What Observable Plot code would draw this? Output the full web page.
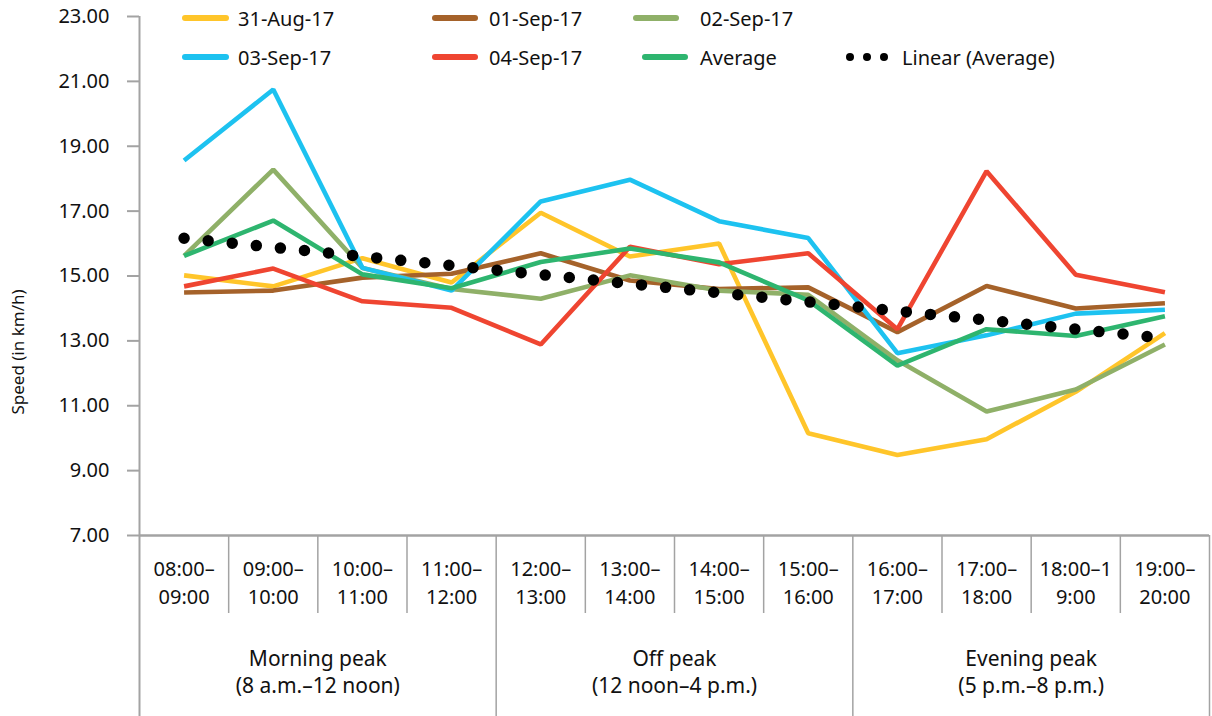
<!DOCTYPE html>
<html><head><meta charset="utf-8">
<script src="https://cdn.jsdelivr.net/npm/d3@7"></script>
<script src="https://cdn.jsdelivr.net/npm/@observablehq/plot@0.6"></script>
<style>
body{margin:0;background:#fff;font-family:"Noto Sans",sans-serif;}
#wrap{position:relative;width:1212px;height:716px;overflow:hidden;}
#wrap svg{position:absolute;left:0;top:0;}
.lg{position:absolute;height:24px;display:flex;align-items:center;font-size:20px;color:#111;white-space:nowrap;}
.sw{position:absolute;height:6px;border-radius:3px;}
.dot{position:absolute;width:8px;height:8px;border-radius:4px;background:#000;}
</style></head><body><div id="wrap"></div>
<script>
// ---- data ----
const slots = ["08:00–\n09:00","09:00–\n10:00","10:00–\n11:00","11:00–\n12:00","12:00–\n13:00","13:00–\n14:00","14:00–\n15:00","15:00–\n16:00","16:00–\n17:00","17:00–\n18:00","18:00–1\n9:00","19:00–\n20:00"];
const groups = ["Morning peak\n(8 a.m.–12 noon)","Off peak\n(12 noon–4 p.m.)","Evening peak\n(5 p.m.–8 p.m.)"];
const groupCenters = [2.5, 6.5, 10.5];
const slotEdges = [1.5,2.5,3.5,5.5,6.5,7.5,9.5,10.5,11.5];
const groupEdges = [0.5,4.5,8.5,12.5];
const yTicks = [7,9,11,13,15,17,19,21,23];
const seriesNames = ["31-Aug-17","01-Sep-17","02-Sep-17","03-Sep-17","04-Sep-17","Average"];
const seriesColors = ["#FFC52A","#A5622A","#8FB068","#1DC2F0","#EF4531","#2EB56F"];
const aug31 = [15.02,14.68,15.55,14.8,16.95,15.6,16.0,10.15,9.48,9.97,11.43,13.24];
const sep01 = [14.49,14.55,14.95,15.07,15.7,14.86,14.6,14.65,13.27,14.69,14.0,14.16];
const sep02 = [15.62,18.28,15.25,14.6,14.3,15.02,14.55,14.42,12.4,10.82,11.5,12.89];
const sep03 = [18.56,20.75,15.25,14.55,17.3,17.97,16.69,16.17,12.62,13.17,13.84,13.96];
const sep04 = [14.68,15.23,14.22,14.02,12.89,15.9,15.36,15.7,13.36,18.23,15.04,14.5];
const average = [15.62,16.71,15.05,14.62,15.43,15.85,15.42,14.25,12.24,13.36,13.15,13.76];
const trendLabel = "Linear (Average)";

const allSeries = [aug31, sep01, sep02, sep03, sep04, average];
const rows = allSeries.flatMap((vals, s) => vals.map((v, i) => ({slot: i + 1, series: seriesNames[s], value: v})));
const avgRows = average.map((v, i) => ({slot: i + 1, value: v}));

const FONT = "Noto Sans";
const AXIS = "#A3A3A3";
const INK = "#111";

const chart = Plot.plot({
  width: 1212, height: 716,
  marginLeft: 139, marginRight: 3, marginTop: 16, marginBottom: 181,
  style: {fontFamily: FONT, fontSize: "20px", color: INK, background: "transparent"},
  x: {type: "linear", domain: [0.5, 12.5], axis: null},
  y: {domain: [7, 23], axis: null},
  color: {domain: seriesNames, range: seriesColors},
  marks: [
    // y axis
    Plot.axisY({ticks: yTicks, tickFormat: d3.format(".2f"), tickSize: 12, tickPadding: 18, stroke: AXIS, strokeWidth: 2, fill: INK, fontSize: 20, label: null}),
    Plot.ruleX([0.5], {stroke: AXIS, strokeWidth: 2, insetBottom: -181}),
    Plot.ruleY([7], {stroke: AXIS, strokeWidth: 2.5}),
    // category table
    Plot.ruleX(slotEdges, {stroke: AXIS, strokeWidth: 1.5, insetTop: 519, insetBottom: -78}),
    Plot.ruleX(groupEdges.slice(1), {stroke: AXIS, strokeWidth: 1.5, insetTop: 519, insetBottom: -181}),
    Plot.text(slots, {x: (d, i) => i + 1, text: d => d, frameAnchor: "bottom", lineAnchor: "middle", dy: 46, lineHeight: 1.4, fontSize: 20, fill: INK}),
    Plot.text(groups, {x: (d, i) => groupCenters[i], text: d => d, frameAnchor: "bottom", lineAnchor: "middle", dy: 135, lineHeight: 1.3, fontSize: 21, fill: INK}),
    Plot.text(["Speed (in km/h)"], {frameAnchor: "left", textAnchor: "middle", lineAnchor: "middle", dx: -121, dy: 76, rotate: -90, fontSize: 17, fill: INK}),
    // series
    Plot.line(rows, {x: "slot", y: "value", stroke: "series", z: "series", strokeWidth: 4.6, strokeLinejoin: "miter", strokeLinecap: "butt"}),
    // trend
    Plot.linearRegressionY(avgRows, {x: "slot", y: "value", ci: 0, stroke: "#000", strokeWidth: 11.5, strokeDasharray: "0 24.2", strokeLinecap: "round"})
  ]
});
const wrap = document.getElementById("wrap");
wrap.appendChild(chart);

// legend (HTML overlay)
const legendLayout = [
  {name: "31-Aug-17", sw: [182, 229], tx: 238, cy: 18},
  {name: "01-Sep-17", sw: [432, 478], tx: 489, cy: 18},
  {name: "02-Sep-17", sw: [633, 679], tx: 700, cy: 18},
  {name: "03-Sep-17", sw: [182, 229], tx: 238, cy: 57},
  {name: "04-Sep-17", sw: [432, 478], tx: 489, cy: 57},
  {name: "Average", sw: [642, 688], tx: 700, cy: 57}
];
legendLayout.forEach(l => {
  const c = seriesColors[seriesNames.indexOf(l.name)];
  const s = document.createElement("div");
  s.className = "sw";
  s.style.left = l.sw[0] + "px"; s.style.width = (l.sw[1] - l.sw[0]) + "px";
  s.style.top = (l.cy - 3) + "px"; s.style.background = c;
  wrap.appendChild(s);
  const t = document.createElement("div");
  t.className = "lg"; t.textContent = l.name;
  t.style.left = l.tx + "px"; t.style.top = (l.cy - 12) + "px";
  wrap.appendChild(t);
});
[850, 867, 884].forEach(x => {
  const d = document.createElement("div");
  d.className = "dot"; d.style.left = (x - 4) + "px"; d.style.top = (57 - 4) + "px";
  wrap.appendChild(d);
});
const tt = document.createElement("div");
tt.className = "lg"; tt.textContent = trendLabel;
tt.style.left = "902px"; tt.style.top = (57 - 12) + "px";
wrap.appendChild(tt);
</script></body></html>
